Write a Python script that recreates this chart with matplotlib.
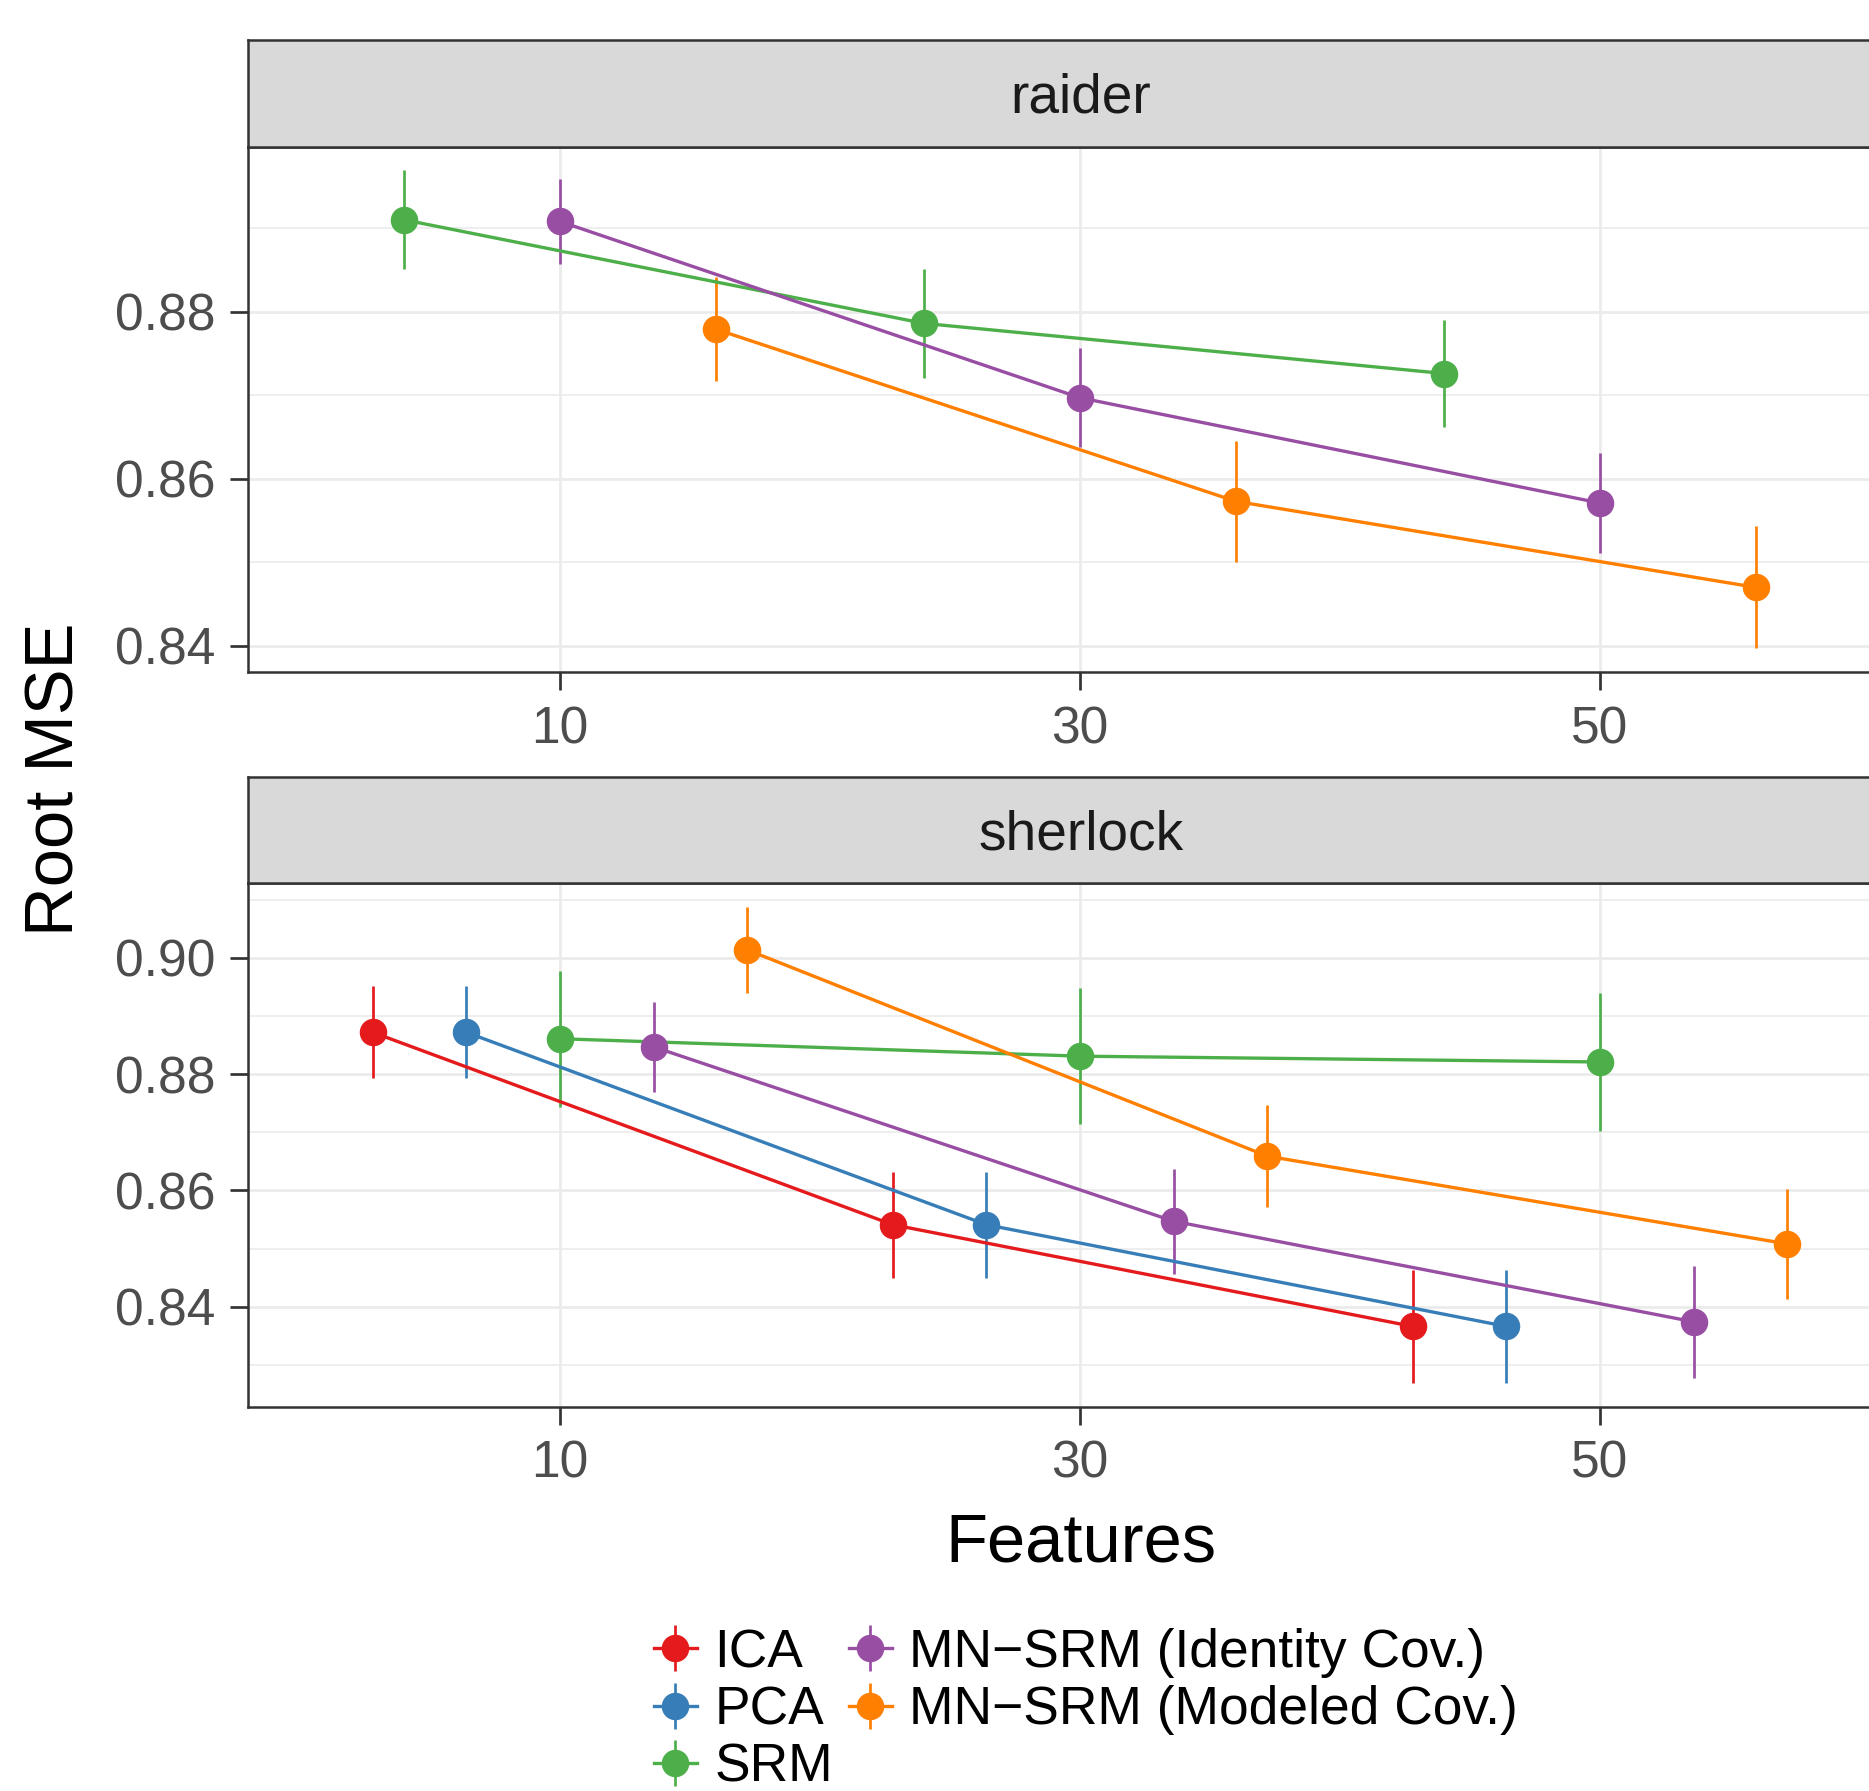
import matplotlib
matplotlib.use("Agg")
import matplotlib.pyplot as plt
from matplotlib.lines import Line2D
from matplotlib.ticker import MultipleLocator, FormatStrFormatter
import numpy as np

plt.rcParams["font.family"] = ["Liberation Sans", "DejaVu Sans"]

# data
features = [10, 30, 50]
methods = ["ICA", "PCA", "SRM",
           "MN\u2212SRM (Identity Cov.)", "MN\u2212SRM (Modeled Cov.)"]
colors = ["#E41A1C", "#377EB8", "#4DAF4A", "#984EA3", "#FF7F00"]

# raider (no ICA / PCA runs)
raider_methods = ["SRM", "MN\u2212SRM (Identity Cov.)", "MN\u2212SRM (Modeled Cov.)"]
raider_srm = [0.8910, 0.8786, 0.8726]
raider_srm_err = [0.0059, 0.0065, 0.0064]
raider_mn_id = [0.8908, 0.8697, 0.8571]
raider_mn_id_err = [0.0051, 0.0059, 0.0060]
raider_mn_mod = [0.8779, 0.8573, 0.8470]
raider_mn_mod_err = [0.0062, 0.0072, 0.0073]

# sherlock
sherlock_methods = methods
sherlock_ica = [0.8872, 0.8541, 0.8366]
sherlock_ica_err = [0.0079, 0.0091, 0.0097]
sherlock_pca = [0.8872, 0.8541, 0.8366]
sherlock_pca_err = [0.0079, 0.0091, 0.0097]
sherlock_srm = [0.8861, 0.8831, 0.8821]
sherlock_srm_err = [0.0117, 0.0117, 0.0118]
sherlock_mn_id = [0.8847, 0.8547, 0.8374]
sherlock_mn_id_err = [0.0078, 0.0090, 0.0096]
sherlock_mn_mod = [0.9014, 0.8659, 0.8508]
sherlock_mn_mod_err = [0.0074, 0.0088, 0.0094]

panels = [
    ("raider", raider_methods,
     [raider_srm, raider_mn_id, raider_mn_mod],
     [raider_srm_err, raider_mn_id_err, raider_mn_mod_err]),
    ("sherlock", sherlock_methods,
     [sherlock_ica, sherlock_pca, sherlock_srm, sherlock_mn_id, sherlock_mn_mod],
     [sherlock_ica_err, sherlock_pca_err, sherlock_srm_err,
      sherlock_mn_id_err, sherlock_mn_mod_err]),
]

W, H = 1869, 1791
fig = plt.figure(figsize=(W / 300, H / 300), dpi=300)


def fx(px):
    return px / W


def fy(px):
    return 1 - px / H


left, right = 248, 1912
# (strip top, panel top, panel bottom) in pixels
rows = [(40.5, 146.6, 672.3), (777, 883, 1406.6)]

grid_col = "#EBEBEB"
dark = "#333333"

for (name, meths, means, errs), (s_top, p_top, p_bot) in zip(panels, rows):
    ax = fig.add_axes([fx(left), fy(p_bot), fx(right - left), (p_bot - p_top) / H])
    n = len(meths)
    cat = np.arange(1, len(features) + 1)
    for i, (m, y, e) in enumerate(zip(meths, means, errs)):
        c = colors[methods.index(m)]
        x = cat + (i - (n - 1) / 2) * 0.9 / n
        ax.errorbar(x, y, yerr=e, fmt="-o", color=c, lw=0.8, ms=5.6,
                    elinewidth=0.65, capsize=0)
    lo = min(np.min(np.array(y) - np.array(e)) for y, e in zip(means, errs))
    hi = max(np.max(np.array(y) + np.array(e)) for y, e in zip(means, errs))
    pad = (hi - lo) * 0.05
    ax.set_ylim(lo - pad, hi + pad)
    ax.set_xlim(0.4, len(features) + 0.6)
    ax.set_xticks(cat)
    ax.set_xticklabels([str(f) for f in features])
    ax.yaxis.set_major_locator(MultipleLocator(0.02))
    ax.yaxis.set_minor_locator(MultipleLocator(0.01))
    ax.yaxis.set_major_formatter(FormatStrFormatter("%.2f"))
    ax.set_axisbelow(True)
    ax.grid(True, which="major", color=grid_col, lw=0.65)
    ax.grid(True, which="minor", axis="y", color=grid_col, lw=0.4)
    ax.tick_params(which="major", length=4.3, width=0.65, color=dark,
                   labelsize=12.4, labelcolor="#4D4D4D", pad=3.6)
    ax.tick_params(which="minor", length=0)
    for sp in ax.spines.values():
        sp.set_color(dark)
        sp.set_linewidth(0.6)

    # facet strip
    st = fig.add_axes([fx(left), fy(p_top), fx(right - left), (p_top - s_top) / H])
    st.set_facecolor("#D9D9D9")
    st.set_xticks([])
    st.set_yticks([])
    for sp in st.spines.values():
        sp.set_color(dark)
        sp.set_linewidth(0.6)
    st.text(fx(1081 - left) / fx(right - left), 0.32, name, ha="center",
            va="baseline", fontsize=13.2, color="#1A1A1A", transform=st.transAxes)

fig.text(fx(1081), fy(1562), "Features", ha="center", va="baseline", fontsize=16.5)
fig.text(fx(56), fy(779), "Root MSE", ha="center", va="center",
         rotation=90, fontsize=16.5)

handles = []
for c in colors:
    handles.append((Line2D([], [], color=c, lw=0.8, marker="o", ms=5.6),
                    Line2D([], [], color=c, lw=0, marker="|", ms=11.2, mew=0.65)))
fig.legend(handles, methods, loc="upper left",
           bbox_to_anchor=(fx(654), fy(1628)), ncol=2, frameon=False,
           fontsize=12.8, borderpad=0, borderaxespad=0, labelspacing=0.14,
           handlelength=0.8, handletextpad=0.33, columnspacing=0.3)

fig.savefig("out.png", dpi=300)
